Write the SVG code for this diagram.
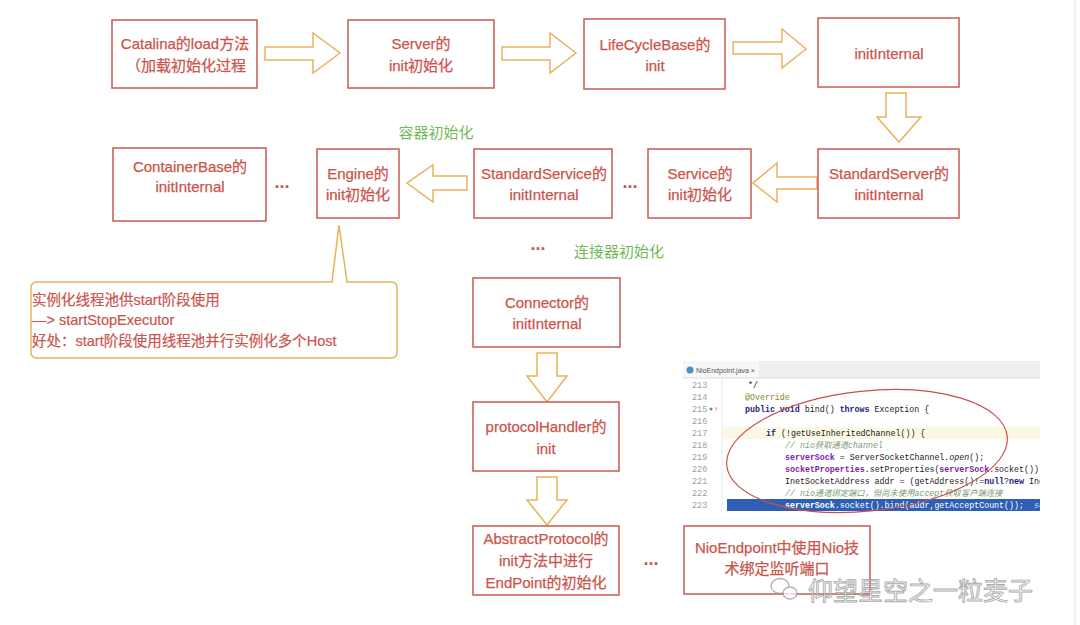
<svg xmlns="http://www.w3.org/2000/svg" width="1080" height="625" viewBox="0 0 1080 625">
<defs>
<style>
.box{fill:#fff;stroke:#c65a52;stroke-width:1.5}
.t{font-family:"Liberation Sans","Noto Sans CJK SC",sans-serif;font-size:15px;fill:#c9554c;stroke:#c9554c;stroke-width:0.25;text-anchor:middle}
.arr{fill:#fff;stroke:#e9b25a;stroke-width:1.5;stroke-linejoin:miter}
.green{font-family:"Liberation Sans","Noto Sans CJK SC",sans-serif;font-size:15px;fill:#74b85a;text-anchor:middle}
.dots{font-family:"Liberation Sans",sans-serif;font-size:18px;font-weight:bold;fill:#c9554c;text-anchor:middle}
.note{font-family:"Liberation Sans","Noto Sans CJK SC",sans-serif;font-size:14.5px;fill:#c9554c;stroke:#c9554c;stroke-width:0.2}
.ln{font-family:"Liberation Mono",monospace;font-size:8.5px;fill:#a0a0a0}
.code{font-family:"Liberation Mono","Noto Sans CJK SC",monospace;font-size:8.3px;fill:#1a1a1a;white-space:pre}
.kw{fill:#1a237e;font-weight:bold}
.fld{fill:#7b1fa2;font-weight:bold}
.cm{fill:#7f9a7a;font-style:italic}
.an{fill:#8a8a2a}
</style>
<clipPath id="codeclip"><rect x="683" y="361" width="357" height="152"/></clipPath>
</defs>
<rect width="1080" height="625" fill="#fff"/>
<line x1="1075" y1="0" x2="1075" y2="625" stroke="#e4e4e4" stroke-width="1"/>

<g id="connectors">
<polygon class="arr" points="265,47 313,47 313,33 340,53 313,73 313,60 265,60"/>
<polygon class="arr" points="502,47 550,47 550,33 576,53 550,73 550,60 502,60"/>
<polygon class="arr" points="733,42 782,42 782,29 806,49 782,68 782,54 733,54"/>
<polygon class="arr" points="886,93 906,93 906,117 921,117 899,142 877,117 886,117"/>
<polygon class="arr" points="817,177 777,177 777,163 753,183 777,202 777,189 817,189"/>
<polygon class="arr" points="467,176 433,176 433,165 407,183 433,202 433,190 467,190"/>
<polygon class="arr" points="537,353 557,353 557,376 567,376 547,402 527,376 537,376"/>
<polygon class="arr" points="537,477 557,477 557,500 567,500 547,525 527,500 537,500"/>
<text class="dots" x="282" y="188">...</text>
<text class="dots" x="630" y="188">...</text>
<text class="dots" x="538" y="250">...</text>
<text class="dots" x="651" y="565">...</text>
</g>

<g id="n-catalina">
<rect class="box" x="112" y="20" width="145" height="68"/>
<text class="t" x="185" y="49">Catalina的load方法</text>
<text class="t" x="186" y="71">（加载初始化过程</text>
</g>
<g id="n-server">
<rect class="box" x="348" y="20" width="146" height="68"/>
<text class="t" x="421" y="49">Server的</text>
<text class="t" x="421" y="71">init初始化</text>
</g>
<g id="n-lifecycle">
<rect class="box" x="584" y="19" width="141" height="70"/>
<text class="t" x="655" y="50">LifeCycleBase的</text>
<text class="t" x="655" y="71">init</text>
</g>
<g id="n-initinternal">
<rect class="box" x="818" y="18" width="141" height="69"/>
<text class="t" x="889" y="59">initInternal</text>
</g>
<g id="n-standardserver">
<rect class="box" x="818" y="149" width="141" height="69"/>
<text class="t" x="889" y="179">StandardServer的</text>
<text class="t" x="889" y="200">initInternal</text>
</g>
<g id="n-service">
<rect class="box" x="648" y="149" width="103" height="69"/>
<text class="t" x="700" y="179">Service的</text>
<text class="t" x="700" y="200">init初始化</text>
</g>
<g id="n-standardservice">
<rect class="box" x="474" y="149" width="138" height="69"/>
<text class="t" x="544" y="179">StandardService的</text>
<text class="t" x="544" y="200">initInternal</text>
</g>
<g id="n-engine">
<rect class="box" x="317" y="149" width="82" height="69"/>
<text class="t" x="358" y="179">Engine的</text>
<text class="t" x="358" y="200">init初始化</text>
</g>
<g id="n-containerbase">
<rect class="box" x="113" y="148" width="153" height="73"/>
<text class="t" x="190" y="172">ContainerBase的</text>
<text class="t" x="190" y="192">initInternal</text>
</g>
<text class="green" x="436" y="138">容器初始化</text>
<text class="green" x="619" y="257">连接器初始化</text>

<g id="n-note">
<path d="M37,282 L332,282 L339,225 L347,282 L391,282 Q397,282 397,288 L397,352 Q397,358 391,358 L37,358 Q31,358 31,352 L31,288 Q31,282 37,282 Z" fill="#fff" stroke="#e9b25a" stroke-width="1.5"/>
<text class="note" x="32" y="305">实例化线程池供start阶段使用</text>
<text class="note" x="32" y="325">—&gt; startStopExecutor</text>
<text class="note" x="32" y="346">好处：start阶段使用线程池并行实例化多个Host</text>
</g>

<g id="n-connector">
<rect class="box" x="473" y="278" width="147" height="69"/>
<text class="t" x="547" y="308">Connector的</text>
<text class="t" x="547" y="329">initInternal</text>
</g>
<g id="n-protocolhandler">
<rect class="box" x="473" y="402" width="146" height="69"/>
<text class="t" x="546" y="432">protocolHandler的</text>
<text class="t" x="546" y="454">init</text>
</g>
<g id="n-abstractprotocol">
<rect class="box" x="473" y="526" width="146" height="69"/>
<text class="t" x="546" y="544">AbstractProtocol的</text>
<text class="t" x="546" y="566">init方法中进行</text>
<text class="t" x="546" y="588">EndPoint的初始化</text>
</g>
<g id="n-nioendpoint">
<rect class="box" x="684" y="526" width="186" height="68"/>
<text class="t" x="777" y="553">NioEndpoint中使用Nio技</text>
<text class="t" x="777" y="574">术绑定监听端口</text>
</g>

<g id="code-shot" clip-path="url(#codeclip)">
<rect x="683" y="361" width="357" height="152" fill="#fff"/>
<rect x="683" y="361" width="357" height="17" fill="#eeeeee"/>
<rect x="683" y="361" width="76" height="17" fill="#f7f7f7"/>
<circle cx="690" cy="370" r="3.5" fill="#4a90c8"/>
<text x="696" y="373" font-family="Liberation Sans,sans-serif" font-size="7px" fill="#555">NioEndpoint.java ×</text>
<line x1="683" y1="378" x2="1040" y2="378" stroke="#dcdcdc"/>
<line x1="722" y1="378" x2="722" y2="513" stroke="#eaeaea"/>
<rect x="723" y="427" width="317" height="12" fill="#fbf9e4"/>
<rect x="727" y="499" width="313" height="12" fill="#2e5fb5"/>
<g class="ln">
<text x="692" y="388">213</text>
<text x="692" y="400">214</text>
<text x="692" y="412">215</text>
<text x="692" y="424">216</text>
<text x="692" y="436">217</text>
<text x="692" y="448">218</text>
<text x="692" y="460">219</text>
<text x="692" y="472">220</text>
<text x="692" y="484">221</text>
<text x="692" y="496">222</text>
<text x="692" y="508">223</text>
</g>
<circle cx="711" cy="409" r="1.6" fill="#4caf50"/>
<text x="714" y="412" font-family="Liberation Sans,sans-serif" font-size="8px" fill="#d9534f">↑</text>
<text class="code" x="748" y="388">*/</text>
<text class="code an" x="745" y="400">@Override</text>
<text class="code" x="745" y="412"><tspan class="kw">public void</tspan> bind() <tspan class="kw">throws</tspan> Exception {</text>
<text class="code" x="766" y="436"><tspan class="kw">if</tspan> (!getUseInheritedChannel()) {</text>
<text class="code cm" x="785" y="448">// nio获取通道channel</text>
<text class="code" x="785" y="460"><tspan class="fld">serverSock</tspan> = ServerSocketChannel.<tspan font-style="italic">open</tspan>();</text>
<text class="code" x="785" y="472"><tspan class="fld">socketProperties</tspan>.setProperties(<tspan class="fld">serverSock</tspan>.socket());</text>
<text class="code" x="785" y="484">InetSocketAddress addr = (getAddress()!=<tspan class="kw">null</tspan>?<tspan class="kw">new</tspan> Ine</text>
<text class="code cm" x="785" y="496">// nio通道绑定端口，但尚未使用accept获取客户端连接</text>
<text class="code" x="785" y="508" fill="#fff"><tspan font-weight="bold" fill="#fff">serverSock</tspan><tspan fill="#fff">.socket().bind(addr,getAcceptCount());  </tspan><tspan fill="#c8d4ee" font-style="italic">so</tspan></text>
</g>
<ellipse cx="867" cy="451" rx="141" ry="60" transform="rotate(-6 867 451)" fill="none" stroke="#c9504f" stroke-width="1.2"/>

<g id="watermark" opacity="0.75">
<ellipse cx="780" cy="586" rx="9" ry="7.5" fill="none" stroke="#9a9a9a" stroke-width="1.3"/>
<ellipse cx="790" cy="593" rx="7" ry="6" fill="#fff" stroke="#9a9a9a" stroke-width="1.3"/>
<text x="808" y="600" font-family="Noto Sans CJK SC,sans-serif" font-size="25px" fill="#fff" stroke="#8f8f8f" stroke-width="0.9">仰望星空之一粒麦子</text>
</g>
</svg>
